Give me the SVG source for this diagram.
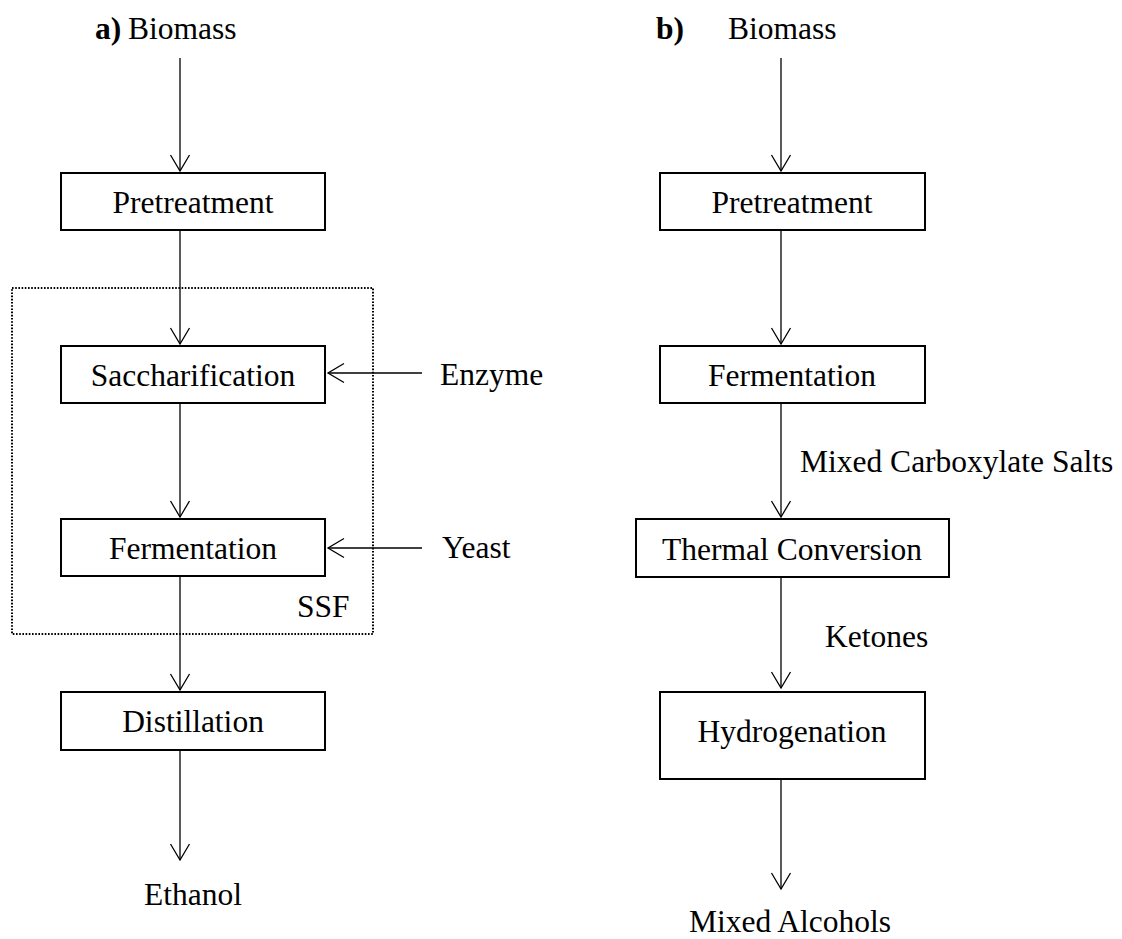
<svg xmlns="http://www.w3.org/2000/svg" width="1122" height="939" viewBox="0 0 1122 939">
<style>
text{font-family:"Liberation Serif","Times New Roman",serif;font-size:31.5px;fill:#000}
.b{font-weight:bold}
.m{text-anchor:middle}
.box{fill:#fff;stroke:#000;stroke-width:2}
.ln{fill:none;stroke:#000;stroke-width:1.3}
.dot{fill:none;stroke:#000;stroke-width:2;stroke-dasharray:1.6 1.6}
</style>
<defs>
<marker id="ah" markerUnits="userSpaceOnUse" markerWidth="20" markerHeight="22" orient="auto" refX="0" refY="0" overflow="visible">
<path d="M-16,-9.5 L0,0 L-16,9.5" fill="none" stroke="#000" stroke-width="1.3"/>
</marker>
</defs>
<g id="ssf-region">
<rect class="dot" x="12" y="288" width="361" height="346"/>
<text x="297" y="617">SSF</text>
</g>
<g id="connectors">
<line class="ln" x1="180" y1="58" x2="180" y2="171" marker-end="url(#ah)"/>
<line class="ln" x1="180" y1="230" x2="180" y2="344" marker-end="url(#ah)"/>
<line class="ln" x1="180" y1="403" x2="180" y2="517" marker-end="url(#ah)"/>
<line class="ln" x1="180" y1="576" x2="180" y2="690" marker-end="url(#ah)"/>
<line class="ln" x1="180" y1="750" x2="180" y2="860" marker-end="url(#ah)"/>
<line class="ln" x1="422" y1="373" x2="328" y2="373" marker-end="url(#ah)"/>
<line class="ln" x1="422" y1="548" x2="328" y2="548" marker-end="url(#ah)"/>
<line class="ln" x1="781" y1="58" x2="781" y2="171" marker-end="url(#ah)"/>
<line class="ln" x1="781" y1="230" x2="781" y2="344" marker-end="url(#ah)"/>
<line class="ln" x1="781" y1="403" x2="781" y2="517" marker-end="url(#ah)"/>
<line class="ln" x1="781" y1="577" x2="781" y2="688" marker-end="url(#ah)"/>
<line class="ln" x1="781" y1="779" x2="781" y2="889" marker-end="url(#ah)"/>
</g>
<g id="label-a"><text class="b" x="95" y="39">a)</text></g>
<g id="biomass-a"><text x="128" y="39">Biomass</text></g>
<g id="pretreatment-a"><rect class="box" x="61" y="173" width="264" height="57"/><text class="m" x="193" y="213">Pretreatment</text></g>
<g id="saccharification"><rect class="box" x="61" y="346" width="264" height="57"/><text class="m" x="193" y="386">Saccharification</text></g>
<g id="fermentation-a"><rect class="box" x="61" y="519" width="264" height="57"/><text class="m" x="193" y="559">Fermentation</text></g>
<g id="distillation"><rect class="box" x="61" y="692" width="264" height="58"/><text class="m" x="193" y="732">Distillation</text></g>
<g id="ethanol"><text class="m" x="193" y="905">Ethanol</text></g>
<g id="enzyme"><text x="440" y="385">Enzyme</text></g>
<g id="yeast"><text x="442" y="558">Yeast</text></g>
<g id="label-b"><text class="b" x="656" y="39">b)</text></g>
<g id="biomass-b"><text x="728" y="39">Biomass</text></g>
<g id="pretreatment-b"><rect class="box" x="660" y="173" width="265" height="57"/><text class="m" x="792" y="213">Pretreatment</text></g>
<g id="fermentation-b"><rect class="box" x="660" y="346" width="265" height="57"/><text class="m" x="792" y="386">Fermentation</text></g>
<g id="carboxylate"><text x="800" y="472">Mixed Carboxylate Salts</text></g>
<g id="thermal"><rect class="box" x="636" y="519" width="313" height="58"/><text class="m" x="792" y="560">Thermal Conversion</text></g>
<g id="ketones"><text x="825" y="647">Ketones</text></g>
<g id="hydrogenation"><rect class="box" x="660" y="692" width="265" height="87"/><text class="m" x="792" y="742">Hydrogenation</text></g>
<g id="alcohols"><text class="m" x="790" y="932">Mixed Alcohols</text></g>
</svg>
